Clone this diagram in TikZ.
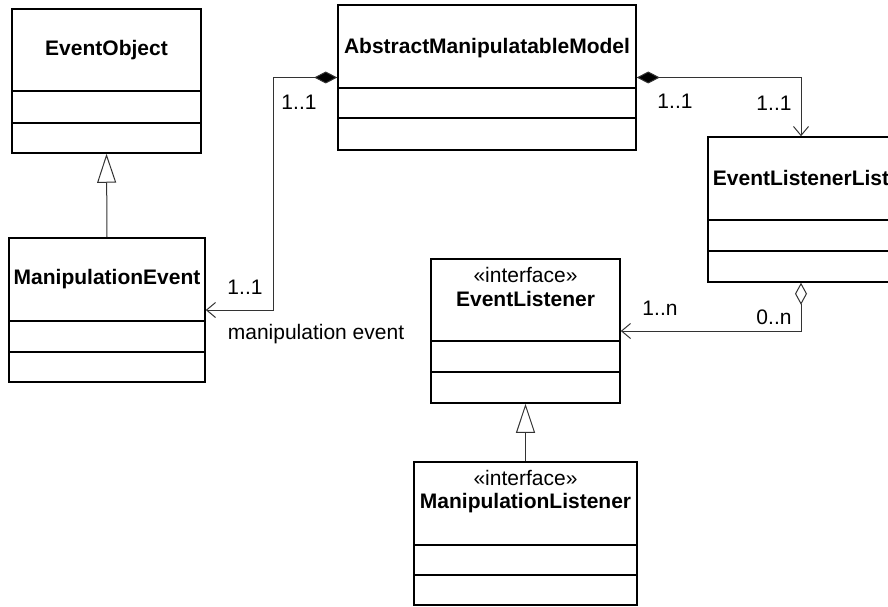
\documentclass[tikz,border=0pt]{standalone}
\usepackage{fontspec}
\setmainfont{Liberation Sans}
\usetikzlibrary{arrows.meta}
\begin{document}
\begin{tikzpicture}[x=1pt,y=-1pt,
  umlbox/.style={draw=black,line width=1.5pt,fill=white,inner sep=0pt,rectangle},
  divider/.style={draw=black,line width=1.5pt},
  title/.style={font=\fontsize{21}{25}\selectfont\bfseries,inner sep=0pt,anchor=center},
  stereo/.style={font=\fontsize{21}{25}\selectfont,inner sep=0pt,anchor=center},
  lbl/.style={font=\fontsize{21}{25}\selectfont,inner sep=0pt,anchor=center},
  conn/.style={draw=black!80,line width=1pt},
  comp/.style={conn,{Diamond[length=23pt,width=12pt,fill=black]}-{Straight Barb[length=9pt,width=15pt,line width=1pt]}},
  aggr/.style={conn,{Diamond[open,length=22pt,width=12pt,fill=white]}-{Straight Barb[length=9pt,width=15pt,line width=1pt]}},
  gen/.style={conn,-{Triangle[open,length=29pt,width=19pt,fill=white]}}
]
\useasboundingbox (0,0) rectangle (888,607);
\fill[white] (0,0) rectangle (888,607);
\clip (0,0) rectangle (888,607);

% EventObject
\node[umlbox,minimum width=189pt,minimum height=144pt] (eo) at (106.5,81) {};
\draw[divider] (12,91) -- (201,91);
\draw[divider] (12,123) -- (201,123);
\node[title] (eot) at (106.5,50) {EventObject};

% AbstractManipulatableModel
\node[umlbox,minimum width=298pt,minimum height=145pt] (amm) at (487,77.5) {};
\draw[divider] (338,88) -- (636,88);
\draw[divider] (338,118) -- (636,118);
\node[title] (ammt) at (487,48) {AbstractManipulatableModel};

% ManipulationEvent
\node[umlbox,minimum width=196pt,minimum height=144pt] (mev) at (107,310) {};
\draw[divider] (9,321) -- (205,321);
\draw[divider] (9,352) -- (205,352);
\node[title] (mevt) at (107,279) {ManipulationEvent};

% EventListenerList
\node[umlbox,minimum width=186pt,minimum height=145pt] (ell) at (801,209.5) {};
\draw[divider] (708,220) -- (894,220);
\draw[divider] (708,251) -- (894,251);
\node[title] (ellt) at (801,178) {EventListenerList};

% EventListener
\node[umlbox,minimum width=189pt,minimum height=144pt] (el) at (525.5,331) {};
\draw[divider] (431,341) -- (620,341);
\draw[divider] (431,372) -- (620,372);
\node[stereo] (els) at (525.5,275) {«interface»};
\node[title] (elt) at (525.5,299) {EventListener};

% ManipulationListener
\node[umlbox,minimum width=223pt,minimum height=143pt] (ml) at (525.5,533.5) {};
\draw[divider] (414,545) -- (637,545);
\draw[divider] (414,575) -- (637,575);
\node[stereo] (mls) at (525.5,478) {«interface»};
\node[title] (mlt) at (525.5,503) {ManipulationListener};

% connectors
\coordinate (c1) at (273,77.5);
\draw[comp] (amm.west) -- (c1) |- (mev.east);
\draw[comp] (amm.east) -| (ell.north);
\draw[aggr] (ell.south) |- (el.east);
\draw[gen] (mev.north) -- (eo.south);
\draw[gen] (ml.north) -- (el.south);

% labels
\node[lbl] (l1) at (299,102) {1..1};
\node[lbl] (l2) at (245,287) {1..1};
\node[lbl] (l3) at (316,334) {manipulation event};
\node[lbl] (l4) at (675,101) {1..1};
\node[lbl] (l5) at (774,103) {1..1};
\node[lbl] (l6) at (660,308) {1..n};
\node[lbl] (l7) at (774,317) {0..n};
\end{tikzpicture}
\end{document}
